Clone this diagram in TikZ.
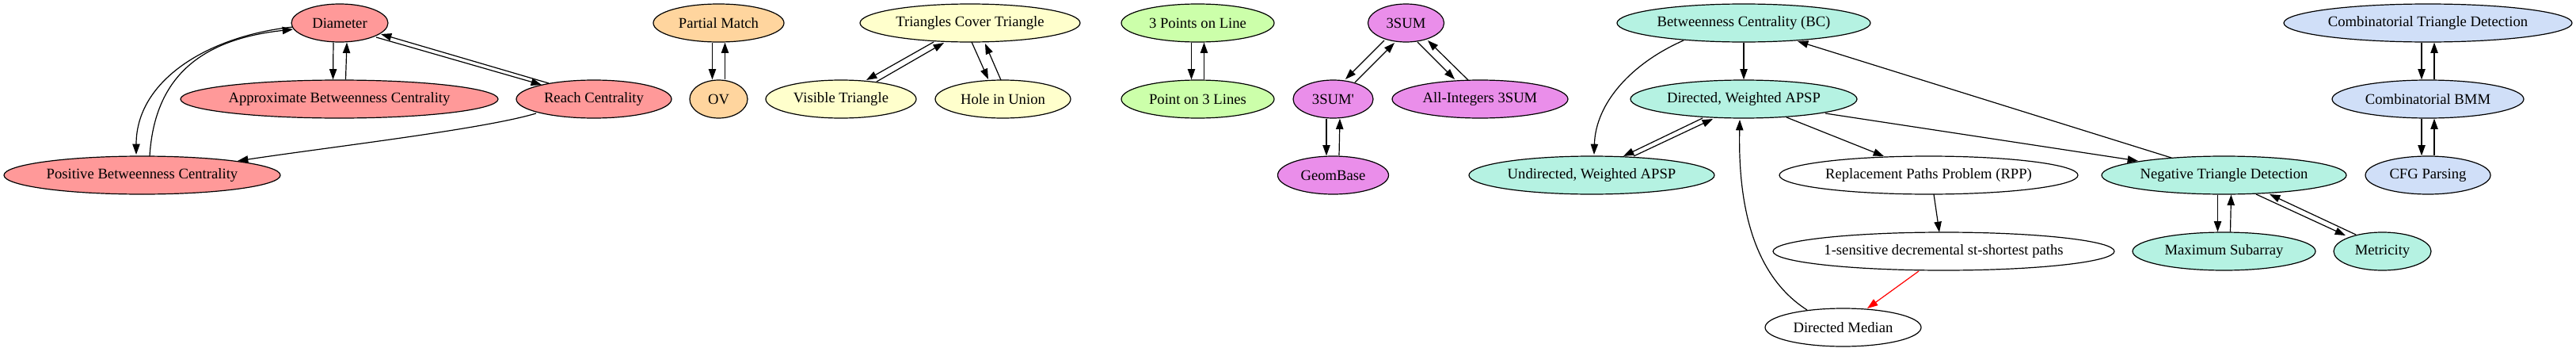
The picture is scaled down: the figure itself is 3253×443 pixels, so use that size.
\documentclass[tikz,border=0pt]{standalone}
\usepackage{fontspec}
\setmainfont{Liberation Serif}
\usetikzlibrary{shapes.geometric,arrows.meta}
\definecolor{cred}{HTML}{FF9999}
\definecolor{corange}{HTML}{FFD59E}
\definecolor{cyellow}{HTML}{FFFFCC}
\definecolor{cgreen}{HTML}{CCFFAA}
\definecolor{cviolet}{HTML}{EA8EEA}
\definecolor{cteal}{HTML}{B5F2E2}
\definecolor{cblue}{HTML}{D0DFF8}
\begin{document}
\begin{tikzpicture}[x=0.75pt,y=-0.75pt,
  ell/.style={ellipse, draw=black, line width=0.9pt, inner sep=0pt, minimum height=36pt,
    font=\fontsize{14pt}{16pt}\selectfont},
  nw/.style={minimum width=#1*0.75pt},
  edge/.style={draw=black, line width=0.9pt, -{Triangle[length=10pt,width=7pt]}},
  redge/.style={draw=red, line width=0.9pt, -{Triangle[length=10pt,width=7pt]}}]
\useasboundingbox (0,0) rectangle (3253,443);

% red group
\node[ell, fill=cred, nw=122] (diam) at (429,29) {Diameter};
\node[ell, fill=cred, nw=401] (approx) at (428.5,125) {Approximate Betweenness Centrality};
\node[ell, fill=cred, nw=196] (reach) at (750,125) {Reach Centrality};
\node[ell, fill=cred, nw=349] (pos) at (179.5,221) {Positive Betweenness Centrality};
% orange group
\node[ell, fill=corange, nw=165] (pm) at (907.5,29) {Partial Match};
\node[ell, fill=corange, nw=73] (ov) at (907.5,125) {OV};
% yellow group
\node[ell, fill=cyellow, nw=278] (tct) at (1225,29) {Triangles Cover Triangle};
\node[ell, fill=cyellow, nw=190] (vt) at (1062,125) {Visible Triangle};
\node[ell, fill=cyellow, nw=171] (hiu) at (1266.5,125) {Hole in Union};
% green group
\node[ell, fill=cgreen, nw=193] (p3l) at (1512.5,29) {3 Points on Line};
\node[ell, fill=cgreen, nw=193] (pt3) at (1512.5,125) {Point on 3 Lines};
% violet group
\node[ell, fill=cviolet, nw=96] (s3) at (1775.5,29) {3SUM};
\node[ell, fill=cviolet, nw=101] (s3p) at (1683.5,125) {3SUM\textquotesingle};
\node[ell, fill=cviolet, nw=222] (ai) at (1869,125) {All-Integers 3SUM};
\node[ell, fill=cviolet, nw=140] (gb) at (1683.5,221) {GeomBase};
% teal group
\node[ell, fill=cteal, nw=320] (bc) at (2202,29) {Betweenness Centrality (BC)};
\node[ell, fill=cteal, nw=286] (dw) at (2202,125) {Directed, Weighted APSP};
\node[ell, fill=cteal, nw=310] (uw) at (2010,221) {Undirected, Weighted APSP};
\node[ell, fill=white, nw=377] (rpp) at (2435.5,221) {Replacement Paths Problem (RPP)};
\node[ell, fill=white, nw=431] (ones) at (2454.5,317) {1-sensitive decremental st-shortest paths};
\node[ell, fill=white, nw=197] (dm) at (2327.5,413) {Directed Median};
\node[ell, fill=cteal, nw=309] (ntd) at (2808.5,221) {Negative Triangle Detection};
\node[ell, fill=cteal, nw=231] (ms) at (2808.5,317) {Maximum Subarray};
\node[ell, fill=cteal, nw=123] (met) at (3008.5,317) {Metricity};
% blue group
\node[ell, fill=cblue, nw=364] (ctd) at (3066,29) {Combinatorial Triangle Detection};
\node[ell, fill=cblue, nw=242] (cbmm) at (3066,125) {Combinatorial BMM};
\node[ell, fill=cblue, nw=158] (cfg) at (3066,221) {CFG Parsing};

% red edges
\draw[edge] ([xshift=-8*0.75pt]diam.south) -- ([xshift=-8*0.75pt]approx.north);
\draw[edge] ([xshift=8*0.75pt]approx.north) -- ([xshift=9*0.75pt]diam.south);
\draw[edge] ([shift={(46,18)}]diam.center) -- ([shift={(-66,-18)}]reach.center);
\draw[edge] ([shift={(-57,-20)}]reach.center) -- ([shift={(52,14)}]diam.center);
\draw[edge] ([shift={(-59,5)}]diam.center) .. controls (265,45) and (172,100) .. ([shift={(-7.5,-26)}]pos.center);
\draw[edge] ([shift={(9.5,-24)}]pos.center) .. controls (195,100) and (250,50) .. ([shift={(-59,8)}]diam.center);
\draw[edge] ([shift={(-73,18)}]reach.center) .. controls (610,163) and (420,185) .. ([shift={(120.5,-18)}]pos.center);
% orange
\draw[edge] ([xshift=-8*0.75pt]pm.south) -- ([xshift=-8*0.75pt]ov.north);
\draw[edge] ([xshift=8*0.75pt]ov.north) -- ([xshift=8*0.75pt]pm.south);
% yellow
\draw[edge] ([shift={(-46,24)}]tct.center) -- ([shift={(32,-24)}]vt.center);
\draw[edge] ([shift={(45,-22)}]vt.center) -- ([shift={(-33,25)}]tct.center);
\draw[edge] ([shift={(2,24)}]tct.center) -- ([shift={(-18.5,-25)}]hiu.center);
\draw[edge] ([shift={(-2.5,-24)}]hiu.center) -- ([shift={(19,26)}]tct.center);
% green
\draw[edge] ([xshift=-8*0.75pt]p3l.south) -- ([xshift=-8*0.75pt]pt3.north);
\draw[edge] ([xshift=8*0.75pt]pt3.north) -- ([xshift=8*0.75pt]p3l.south);
% violet
\draw[edge] ([shift={(-27.5,22)}]s3.center) -- ([shift={(15.5,-25)}]s3p.center);
\draw[edge] ([shift={(27.5,-21)}]s3p.center) -- ([shift={(-14.5,25)}]s3.center);
\draw[edge] ([shift={(14.5,24)}]s3.center) -- ([shift={(-32,-25)}]ai.center);
\draw[edge] ([shift={(-15,-24)}]ai.center) -- ([shift={(27.5,22)}]s3.center);
\draw[edge] ([xshift=-8.5*0.75pt]s3p.south) -- ([xshift=-8.5*0.75pt]gb.north);
\draw[edge] ([xshift=7.5*0.75pt]gb.north) -- ([xshift=8.5*0.75pt]s3p.south);
% teal
\draw[edge] (bc.south) -- (dw.north);
\draw[edge] ([shift={(-76,22)}]bc.center) .. controls (2060,80) and (2015,130) .. ([shift={(3,-26)}]uw.center);
\draw[edge] ([shift={(-52,24)}]dw.center) -- ([shift={(40,-24)}]uw.center);
\draw[edge] ([shift={(53,-24)}]uw.center) -- ([shift={(-39,25)}]dw.center);
\draw[edge] ([shift={(54,23)}]dw.center) -- ([shift={(-56.5,-24)}]rpp.center);
\draw[edge] ([shift={(103,18)}]dw.center) -- ([shift={(-108.5,-18)}]ntd.center);
\draw[edge] ([shift={(-66.5,-22)}]ntd.center) -- ([shift={(68,23)}]bc.center);
\draw[edge] ([shift={(6.5,24)}]rpp.center) -- ([shift={(-5.5,-24)}]ones.center);
\draw[redge] ([shift={(-31.5,25)}]ones.center) -- ([shift={(30.5,-24)}]dm.center);
\draw[edge] ([shift={(-45.5,-22)}]dm.center) .. controls (2210,345) and (2195,250) .. ([shift={(-5,26)}]dw.center);
\draw[edge] ([xshift=-8*0.75pt]ntd.south) -- ([xshift=-8*0.75pt]ms.north);
\draw[edge] ([xshift=8*0.75pt]ms.north) -- ([xshift=9*0.75pt]ntd.south);
\draw[edge] ([shift={(40.5,24)}]ntd.center) -- ([shift={(-46.5,-20)}]met.center);
\draw[edge] ([shift={(-33.5,-21)}]met.center) -- ([shift={(57.5,24)}]ntd.center);
% blue
\draw[edge] ([xshift=-8*0.75pt]ctd.south) -- ([xshift=-8*0.75pt]cbmm.north);
\draw[edge] ([xshift=8*0.75pt]cbmm.north) -- ([xshift=8*0.75pt]ctd.south);
\draw[edge] ([xshift=-8*0.75pt]cbmm.south) -- ([xshift=-8*0.75pt]cfg.north);
\draw[edge] ([xshift=8*0.75pt]cfg.north) -- ([xshift=8*0.75pt]cbmm.south);
\end{tikzpicture}
\end{document}
